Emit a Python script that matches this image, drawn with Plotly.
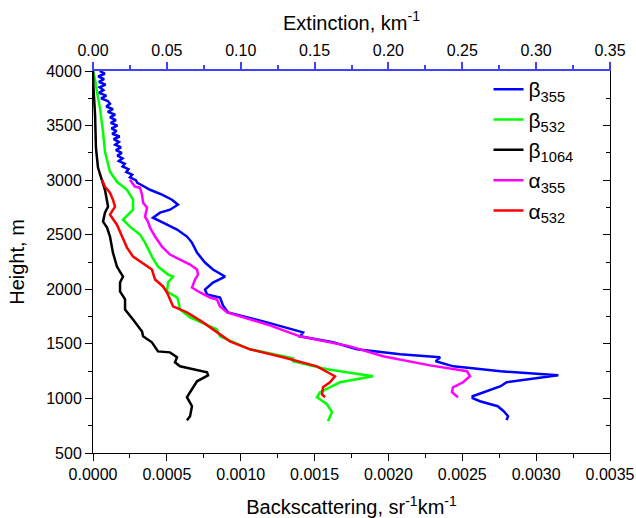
import plotly.graph_objects as go

# ---- data ----
h_b355 = [4000, 3975, 3950, 3925, 3900, 3875, 3850, 3825, 3800, 3775, 3750, 3725, 3700, 3675,
          3650, 3625, 3600, 3575, 3550, 3525, 3500, 3475, 3450, 3425, 3400, 3375, 3350, 3325,
          3300, 3275, 3250, 3225, 3200, 3175, 3150, 3125, 3100, 3075, 3050, 3025, 3000, 2975,
          2958, 2912, 2867, 2821, 2775, 2729, 2702, 2656, 2611, 2547, 2483, 2428, 2336, 2245,
          2181, 2117, 2062, 1998, 1952, 1925, 1852, 1788, 1697, 1605, 1569, 1514, 1450, 1404,
          1377, 1340, 1294, 1249, 1212, 1175, 1148, 1112, 1066, 1020, 1002, 974, 929, 883, 837, 801]
b355 = [0.45e-4, 0.80e-4, 0.35e-4, 0.75e-4, 0.40e-4, 0.85e-4, 0.45e-4, 0.70e-4, 0.40e-4, 0.90e-4,
        0.55e-4, 1.00e-4, 1.15e-4, 0.90e-4, 1.35e-4, 1.00e-4, 1.50e-4, 1.15e-4, 1.55e-4, 1.20e-4,
        1.65e-4, 1.25e-4, 1.60e-4, 1.30e-4, 1.80e-4, 1.40e-4, 1.75e-4, 1.50e-4, 1.90e-4, 1.55e-4,
        1.95e-4, 1.65e-4, 2.00e-4, 1.75e-4, 2.15e-4, 2.00e-4, 2.40e-4, 2.25e-4, 2.65e-4, 2.50e-4,
        2.90e-4, 3.00e-4, 3.25e-4, 3.86e-4, 4.67e-4, 5.35e-4, 5.75e-4, 5.21e-4, 4.54e-4, 4.06e-4,
        4.74e-4, 5.69e-4, 6.36e-4, 6.70e-4, 7.04e-4, 7.58e-4, 8.12e-4, 8.94e-4, 8.12e-4, 7.58e-4,
        7.72e-4, 8.60e-4, 8.80e-4, 9.14e-4, 11.78e-4, 14.22e-4, 14.01e-4, 16.25e-4, 17.87e-4, 20.8e-4,
        23.5e-4, 23.2e-4, 24.4e-4, 27.6e-4, 31.5e-4, 29.4e-4, 28.0e-4, 27.6e-4, 26.7e-4, 25.7e-4,
        25.7e-4, 26.2e-4, 27.4e-4, 27.8e-4, 28.1e-4, 28.0e-4]

h_b532 = [4000, 3918, 3808, 3662, 3442, 3260, 3077, 2985, 2912, 2821, 2729, 2656, 2638, 2574, 2501,
          2428, 2300, 2208, 2135, 2117, 2062, 1980, 1925, 1907, 1815, 1742, 1633, 1569, 1450, 1367,
          1340, 1267, 1203, 1148, 1057, 1011, 947, 874, 792]
b532 = [0.0, 0.14e-4, 0.27e-4, 0.47e-4, 0.68e-4, 0.81e-4, 1.15e-4, 1.62e-4, 2.30e-4, 2.71e-4,
        2.71e-4, 2.17e-4, 2.03e-4, 2.50e-4, 3.18e-4, 3.52e-4, 3.99e-4, 4.40e-4, 5.08e-4, 5.42e-4,
        5.08e-4, 5.01e-4, 5.69e-4, 5.75e-4, 5.89e-4, 6.57e-4, 8.39e-4, 8.60e-4, 10.63e-4, 13.54e-4,
        13.54e-4, 15.84e-4, 18.96e-4, 16.72e-4, 15.37e-4, 15.16e-4, 15.84e-4, 16.18e-4, 15.91e-4]

h_b1064 = [4000, 3872, 3598, 3296, 3113, 3004, 2912, 2757, 2702, 2620, 2565, 2483, 2336, 2208, 2117,
           2062, 1980, 1907, 1815, 1724, 1614, 1569, 1514, 1431, 1422, 1377, 1331, 1294, 1240, 1212,
           1157, 1057, 1011, 929, 837, 801]
b1064 = [0.0, 0.02e-4, 0.14e-4, 0.20e-4, 0.34e-4, 0.61e-4, 0.81e-4, 1.02e-4, 0.81e-4, 0.68e-4,
         0.95e-4, 1.15e-4, 1.35e-4, 1.62e-4, 2.03e-4, 1.83e-4, 1.83e-4, 2.17e-4, 2.17e-4, 2.71e-4,
         3.32e-4, 3.39e-4, 3.99e-4, 4.40e-4, 5.21e-4, 5.69e-4, 5.55e-4, 5.89e-4, 7.72e-4, 7.79e-4,
         7.04e-4, 6.57e-4, 6.36e-4, 6.70e-4, 6.57e-4, 6.36e-4]

h_a355 = [3004, 2940, 2931, 2867, 2793, 2748, 2665, 2620, 2565, 2483, 2391, 2318, 2272, 2227, 2181,
          2135, 2090, 2016, 1971, 1925, 1907, 1843, 1788, 1678, 1569, 1477, 1386, 1303, 1249, 1203,
          1148, 1102, 1057, 1011]
a355 = [0.0250, 0.0284, 0.0318, 0.0332, 0.0339, 0.0366, 0.0352, 0.0372, 0.0386, 0.0420, 0.0467,
        0.0521, 0.0589, 0.0657, 0.0704, 0.0711, 0.0691, 0.0670, 0.0724, 0.0792, 0.0839, 0.0860,
        0.0907, 0.1178, 0.1401, 0.1740, 0.1963, 0.2281, 0.2532, 0.2552, 0.2505, 0.2437, 0.2430,
        0.2471]

h_a532 = [3004, 2940, 2885, 2821, 2757, 2711, 2684, 2592, 2483, 2382, 2300, 2245, 2181, 2090, 2026,
          1971, 1843, 1788, 1697, 1523, 1450, 1377, 1294, 1203, 1148, 1102, 1038, 1011]
a532 = [0.0061, 0.0081, 0.0115, 0.0135, 0.0149, 0.0129, 0.0115, 0.0162, 0.0196, 0.0230, 0.0271,
        0.0332, 0.0399, 0.0420, 0.0474, 0.0501, 0.0542, 0.0636, 0.0745, 0.0927, 0.1063, 0.1286,
        0.1516, 0.1638, 0.1604, 0.1557, 0.1550, 0.1571]

x_ticks_back = [0.0, 0.0005, 0.0010, 0.0015, 0.0020, 0.0025, 0.0030, 0.0035]
x_ticks_ext = [0.0, 0.05, 0.10, 0.15, 0.20, 0.25, 0.30, 0.35]
y_ticks = [500, 1000, 1500, 2000, 2500, 3000, 3500, 4000]

FONT = "Liberation Sans, Arial, sans-serif"
AXBLUE = "#4040ff"
LW = 2.5
TICKF = dict(size=16, family=FONT, color="black")
TITLEF = dict(size=20, family=FONT, color="black")

fig = go.Figure()
fig.add_trace(go.Scatter(x=b355, y=h_b355, mode="lines", name="β<sub>355</sub>",
                         line=dict(color="#0000ff", width=LW), xaxis="x", yaxis="y"))
fig.add_trace(go.Scatter(x=b532, y=h_b532, mode="lines", name="β<sub>532</sub>",
                         line=dict(color="#00ff00", width=LW), xaxis="x", yaxis="y"))
fig.add_trace(go.Scatter(x=b1064, y=h_b1064, mode="lines", name="β<sub>1064</sub>",
                         line=dict(color="#000000", width=LW), xaxis="x", yaxis="y"))
fig.add_trace(go.Scatter(x=a355, y=h_a355, mode="lines", name="α<sub>355</sub>",
                         line=dict(color="#ff00ff", width=LW), xaxis="x2", yaxis="y"))
fig.add_trace(go.Scatter(x=a532, y=h_a532, mode="lines", name="α<sub>532</sub>",
                         line=dict(color="#ff0000", width=LW), xaxis="x2", yaxis="y"))
# invisible trace to activate the right-hand axis
fig.add_trace(go.Scatter(x=[None], y=[None], xaxis="x", yaxis="y2", showlegend=False,
                         hoverinfo="skip"))

fig.update_layout(
    width=636, height=518,
    margin=dict(l=93, r=26, t=71, b=65),
    paper_bgcolor="white", plot_bgcolor="white",
    font=dict(family=FONT, size=16, color="black"),
    showlegend=True,
    legend=dict(x=0.765, y=1.005, xanchor="left", yanchor="top",
                bgcolor="rgba(0,0,0,0)", font=dict(size=21, family=FONT),
                tracegroupgap=0, itemwidth=30),
    xaxis=dict(range=[0, 0.0035], tickvals=x_ticks_back, tickformat=".4f", automargin=False,
               showgrid=False, zeroline=False, showline=True, linecolor="black", linewidth=1,
               ticks="outside", ticklen=7, tickcolor="black",
               minor=dict(ticks="outside", ticklen=4, dtick=0.00025, tickcolor="black", showgrid=False),
               title=dict(text="Backscattering, sr<sup>-1</sup>km<sup>-1</sup>",
                          font=TITLEF, standoff=32),
               tickfont=TICKF),
    xaxis2=dict(range=[0, 0.35], tickvals=x_ticks_ext, tickformat=".2f", overlaying="x", side="top",
                anchor="y", automargin=False,
                showgrid=False, zeroline=False, showline=True, linecolor=AXBLUE, linewidth=2,
                ticks="outside", ticklen=7, tickcolor=AXBLUE, tickwidth=1.5,
                minor=dict(ticks="outside", ticklen=4, dtick=0.025, tickcolor=AXBLUE, tickwidth=1.5,
                           showgrid=False),
                title=dict(text="Extinction, km<sup>-1</sup>", font=TITLEF, standoff=6),
                tickfont=TICKF),
    yaxis=dict(range=[500, 4000], tickvals=y_ticks, showgrid=False, zeroline=False, automargin=False,
               showline=True, linecolor="black", linewidth=1,
               ticks="outside", ticklen=7, tickcolor="black",
               minor=dict(ticks="outside", ticklen=4, dtick=250, tickcolor="black", showgrid=False),
               title=dict(text="Height, m", font=TITLEF, standoff=16),
               tickfont=TICKF),
    yaxis2=dict(range=[500, 4000], overlaying="y", side="right", anchor="x", automargin=False,
                showgrid=False, zeroline=False, showline=True, linecolor="black", linewidth=1,
                ticks="inside", ticklen=7, tickcolor="black", tickvals=y_ticks, showticklabels=False,
                minor=dict(ticks="inside", ticklen=4, dtick=250, tickcolor="black", showgrid=False)),
)

fig.write_html("out.html")
